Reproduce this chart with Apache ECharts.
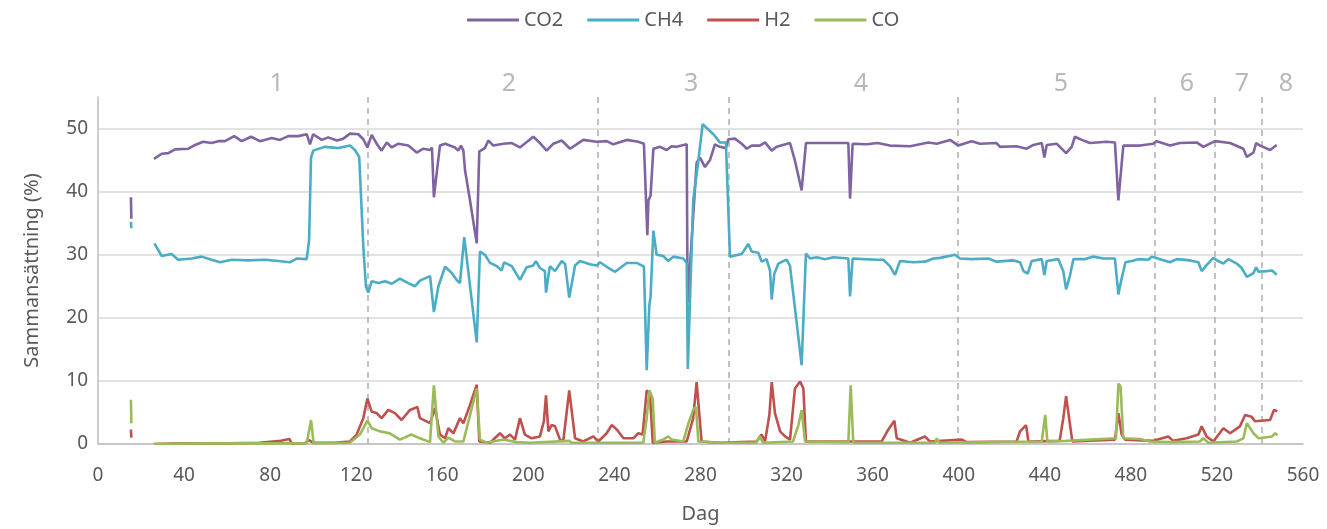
<!DOCTYPE html>
<html>
<head>
<meta charset="utf-8">
<script src="https://cdn.jsdelivr.net/npm/echarts@6/dist/echarts.min.js"></script>
<style>
  html, body { margin: 0; padding: 0; background: #fff; }
  #chart { width: 1327px; height: 529px; }
</style>
</head>
<body>
<div id="chart"></div>
<script>
// [dag, %] par
var co2 = [[15.3,39.1],[15.5,35.7],[20,null],
	[26,45.2],[29.6,46.0],[32.7,46.1],[35.8,46.7],[42,46.8],[45.1,47.4],[48.9,47.9],[52.8,47.7],[55.9,48.0],[59,48.0],[63.3,48.8],[66.8,48.0],[71.1,48.7],[75.3,48.0],[80.7,48.5],[84.6,48.2],[88.4,48.8],[93.1,48.8],[97,49.1],[98.5,47.5],[100,49.1],[104,48.2],[107,48.6],[111,48.1],[114,48.4],[117.1,49.2],[121,49.1],[123.3,48.3],[125.2,47.0],[127.2,49.0],[129.5,47.6],[131.8,46.5],[134.2,47.8],[136.5,47.0],[139.6,47.6],[144.2,47.3],[148.1,46.2],[151.2,46.8],[154.3,46.6],[155.2,47.0],[156.1,39.1],[158.9,47.3],[161.3,47.6],[165.9,47.0],[167.4,46.5],[168.7,47.3],[169.8,46.5],[170.6,43.3],[172.9,38.6],[176,31.8],[177.2,46.4],[179.8,46.9],[181.4,48.1],[183.7,47.3],[188.4,47.6],[192.3,47.7],[196.1,47.0],[202.3,48.7],[205.4,47.7],[208.5,46.5],[211.6,47.6],[215.5,48.1],[219.4,46.8],[225.5,48.2],[231.8,47.9],[236.4,48.0],[239.5,47.5],[245.7,48.2],[251.1,47.9],[253.7,47.6],[255.3,33.1],[255.8,38.6],[256.8,39.4],[258.1,46.8],[261.2,47.1],[264.3,46.6],[266.6,47.2],[268.9,47.1],[273.6,47.5],[274,22.4],[275.4,29.7],[278.2,44.6],[279.8,45.4],[282.1,43.9],[284.4,45.0],[286.7,47.5],[289,47.1],[291.8,46.9],[292.9,48.3],[296,48.4],[299.1,47.6],[301.5,46.8],[303.8,47.3],[307.6,47.3],[310,47.8],[313.1,46.5],[315.4,47.1],[321.6,47.7],[323.9,44.9],[327,40.2],[329,47.7],[334,47.7],[341.7,47.7],[348.7,47.7],[349.5,38.9],[350.7,47.6],[357.2,47.5],[362.4,47.7],[368,47.3],[377.4,47.2],[385.9,47.8],[389.8,47.6],[396,48.2],[399.8,47.3],[406,48.0],[409.9,47.6],[417.6,47.7],[419.2,47.1],[426.9,47.2],[431.6,46.8],[434.7,47.4],[438.6,47.7],[439.8,45.4],[440.9,47.4],[445.5,47.6],[449.9,46.1],[452.5,47.1],[454,48.7],[457.2,48.2],[461,47.7],[468.8,47.9],[472.6,47.8],[474.2,38.6],[476.5,47.3],[484.3,47.3],[490.4,47.6],[492,48.0],[498.2,47.3],[502.8,47.7],[510.6,47.8],[513.7,47.1],[519.1,48.0],[526.1,47.7],[532.3,46.8],[533.9,45.5],[537,46.2],[538.2,47.7],[540.1,47.3],[544.7,46.6],[547.8,47.4]];

var ch4 = [[15.3,35.2],[15.5,34.2],[20,null],
	[26.2,31.8],[29.6,29.8],[34.2,30.1],[37.3,29.2],[43.5,29.4],[48.2,29.7],[52.8,29.2],[56.7,28.8],[62.1,29.2],[69.9,29.1],[77.7,29.2],[83.8,29.0],[89.2,28.8],[92.3,29.4],[97,29.3],[98.1,32.3],[99,45.4],[100,46.5],[105.5,47.1],[111.7,46.9],[117.1,47.3],[119.4,46.6],[121.4,45.5],[123.3,31.3],[124.5,25.0],[125.6,24.0],[127.2,25.8],[130.3,25.5],[133.4,25.8],[136.5,25.4],[140.3,26.2],[144.2,25.5],[147.3,25.0],[149.6,25.9],[154.3,26.6],[156.1,20.9],[158.2,25.0],[161.3,28.1],[164.4,27.1],[166.7,26.0],[168.2,25.5],[170.2,32.8],[176,16.1],[177.5,30.5],[179.8,30.0],[182.2,28.7],[185.3,28.2],[187.6,27.5],[188.7,28.8],[192.3,28.2],[196.1,26.0],[199.2,28.0],[202.3,28.3],[203.5,29.0],[205.4,27.9],[207.7,27.4],[208.2,24.0],[210,28.2],[212.4,27.4],[215.5,29.0],[217.1,28.5],[219,23.2],[221.7,28.3],[224,29.0],[228.6,28.5],[231.8,28.3],[233.3,28.8],[237.2,27.9],[240.3,27.3],[245.7,28.7],[250.4,28.7],[253.7,28.1],[255,11.7],[256.2,21.9],[256.8,23.4],[258.1,33.8],[259.6,30.0],[262.7,29.8],[265,29.0],[267.4,29.7],[272,29.4],[273.6,28.7],[274.1,11.9],[276.6,38.6],[279,44.9],[281,50.7],[282.5,50.2],[286,49.1],[289,47.8],[291.8,47.8],[292.5,41.2],[293.7,29.7],[299.1,30.1],[302.2,31.7],[303.8,30.5],[306.9,30.3],[308.4,28.9],[310.7,29.3],[312.3,27.5],[313.1,22.9],[314.3,27.0],[316.2,28.6],[318.5,29.0],[320.1,29.2],[321.6,28.2],[327,12.5],[329,30.2],[330.9,29.4],[334,29.6],[337.9,29.3],[341.7,29.6],[348.7,29.4],[349.5,23.4],[350.7,29.4],[355.7,29.3],[361.9,29.2],[365,29.2],[368,28.2],[370.4,26.8],[372.7,29.0],[378.9,28.8],[384.3,28.9],[388.2,29.4],[391.3,29.5],[398.3,30.0],[400.6,29.4],[406,29.3],[413.7,29.4],[417.6,28.9],[425.4,29.1],[428.5,28.8],[430.1,27.4],[432.1,27.0],[433.9,29.0],[438.6,29.3],[439.8,26.8],[440.9,29.0],[446.3,29.3],[448.6,27.4],[449.9,24.5],[451.7,26.7],[453.3,29.3],[458.5,29.3],[462.6,29.7],[467.2,29.4],[472.6,29.4],[474.2,23.7],[475.5,25.9],[477.5,28.8],[480.4,29.0],[483.5,29.3],[488.2,29.2],[489.7,29.7],[493.6,29.3],[498.2,28.8],[501.3,29.3],[507.5,29.1],[511.4,28.8],[512.9,27.4],[515.3,28.4],[518.3,29.5],[520.6,29.0],[523,28.6],[525.3,29.3],[529.2,28.6],[531.5,27.9],[533.9,26.5],[537,27.1],[538.2,28.0],[539.4,27.3],[543.3,27.4],[545.6,27.5],[547.8,26.8]];

var h2 = [[15.3,2.3],[15.5,1.0],[20,null],
	[26,0.0],[40,0.1],[60,0.1],[75,0.2],[85,0.5],[89,0.8],[90,0.1],[96,0.1],[98,0.6],[100,0.2],[110,0.2],[117.1,0.4],[120.2,1.5],[123.3,4.1],[125.2,7.2],[127.2,5.1],[129.5,4.9],[131.8,4.1],[134.9,5.4],[138,4.9],[141.1,3.8],[145,5.4],[147.3,5.7],[148.4,5.9],[149.6,4.1],[154.3,3.3],[156.6,5.7],[158.9,1.5],[161.3,0.9],[162.8,2.5],[165.2,1.7],[168.2,4.1],[169.8,3.3],[172.9,6.2],[176,9.4],[177.2,0.4],[182.2,0.2],[186.8,1.7],[189.1,0.9],[191.5,1.5],[193.8,0.7],[196.1,4.1],[198.4,1.5],[201.5,0.9],[205.4,1.2],[207.2,3.6],[208.2,7.7],[209.3,2.0],[210.8,3.0],[212.4,2.8],[214.7,0.7],[216.2,0.4],[219,8.5],[221.7,0.9],[225.5,0.4],[230.2,1.2],[232.5,0.4],[236.4,1.7],[238.7,3.0],[241.1,2.3],[244.2,0.9],[248.8,0.9],[251.1,1.7],[253.1,1.5],[255,8.5],[256.5,8.0],[257.8,0.2],[264.3,0.4],[273.6,0.4],[276.6,4.1],[278.2,9.8],[280.5,0.4],[289,0.2],[306.1,0.4],[308.4,1.5],[310,0.4],[312,4.6],[313.1,9.8],[314.6,4.9],[317,2.0],[319.3,1.2],[321.6,0.7],[323.9,8.8],[326.3,9.9],[327.8,8.8],[329,0.4],[364.2,0.4],[367.3,2.3],[370.1,3.7],[371.2,0.9],[377.4,0.2],[384.3,1.2],[386.6,0.4],[401.4,0.7],[403.7,0.3],[426.9,0.4],[428.5,2.0],[431.3,3.0],[432.4,0.4],[446.9,0.5],[448.6,4.1],[449.9,7.6],[451.3,4.1],[452.8,0.4],[472.6,0.7],[474.2,4.9],[475.7,1.5],[477.3,0.7],[490.4,0.5],[497.4,1.2],[499.7,0.5],[505.9,0.9],[511.4,1.5],[512.9,2.8],[515.2,1.2],[518.3,0.4],[523,2.5],[526.1,1.7],[530.7,2.8],[533.1,4.6],[536.1,4.3],[537.7,3.6],[544.7,3.8],[546.5,5.4],[548.1,5.2]];

var co = [[15.3,7.0],[15.5,3.3],[20,null],
	[26,0.0],[50,0.1],[97,0.1],[99,3.8],[100.2,0.1],[117,0.2],[121.7,1.5],[125.2,3.7],[127.2,2.5],[131,2.0],[135.6,1.7],[140.3,0.7],[145.6,1.5],[149.6,0.9],[154.3,0.3],[156.1,9.3],[158.2,1.2],[160.5,0.2],[162.8,1.0],[165.9,0.4],[169.8,0.4],[176,8.8],[177.5,0.7],[180.6,0.2],[188.4,0.7],[194.6,0.3],[200.7,0.2],[219,0.5],[220,0.2],[253.4,0.2],[255,4.1],[256.2,8.5],[257.8,7.2],[258.8,0.2],[262.7,0.7],[265,1.2],[266.6,0.7],[272,0.4],[274.4,3.3],[276.6,5.4],[277.9,5.9],[279,0.4],[289,0.2],[306,0.2],[307.6,1.2],[309,0.2],[323,0.4],[325.5,3.0],[327,5.4],[328.6,0.4],[348.7,0.3],[349.8,9.3],[351,0.2],[389,0.2],[389.8,0.9],[391,0.2],[438.6,0.4],[440.2,4.6],[441.2,0.4],[449.9,0.5],[473.1,0.9],[474.2,9.6],[475.2,9.1],[476.5,0.9],[484.3,0.8],[488.9,0.4],[498.2,0.3],[512.1,0.4],[513.7,0.9],[516,0.2],[529.2,0.4],[532.3,0.9],[533.9,3.3],[537,1.7],[539.4,0.9],[545.6,1.2],[547.1,1.7],[548.1,1.4]];

// periodgränser (dag) och periodetiketter
var periodBounds = [125.3, 232.1, 292.9, 399.6, 490.9, 519.1, 540.7];
var periodNames = ['1', '2', '3', '4', '5', '6', '7', '8'];
var periodLabelDay = [83, 191, 275.6, 354.6, 447.5, 506, 531.6, 552];
var periodLabelY = 57.1;

var seriesNames = ['CO2', 'CH4', 'H2', 'CO'];
var seriesColors = ['#8064a2', '#4bacc6', '#c0504d', '#9bbb59'];
var seriesData = [co2, ch4, h2, co];

var FONT = 'Noto Sans';
var chart = echarts.init(document.getElementById('chart'));

var series = seriesData.map(function (d, i) {
	var s = {
		name : seriesNames[i],
		type : 'line',
		data : d,
		showSymbol : false,
		symbol : 'none',
		connectNulls : false,
		lineStyle : { width : 2.6, color : seriesColors[i] },
		itemStyle : { color : seriesColors[i] },
		z : 3 + i
	};
	if (i === 0) {
		s.markLine = {
			silent : true,
			symbol : 'none',
			label : { show : false },
			lineStyle : { type : [6, 5], color : '#b3b3b3', width : 1.6 },
			data : periodBounds.map(function (x) { return { xAxis : x }; }),
			z : 2
		};
	}
	return s;
});

series.push({
	name : 'perioder',
	type : 'scatter',
	clip : false,
	silent : true,
	symbolSize : 1,
	itemStyle : { color : 'rgba(0,0,0,0)' },
	label : {
		show : true,
		position : 'inside',
		color : '#a6a6a6',
		fontSize : 25,
		fontFamily : FONT,
		formatter : function (p) { return periodNames[p.dataIndex]; }
	},
	data : periodLabelDay.map(function (x) { return [x, periodLabelY]; })
});

option = {
	animation : false,
	textStyle : { fontFamily : FONT },
	legend : {
		data : seriesNames,
		top : 5,
		left : 462,
		icon : 'rect',
		itemWidth : 52,
		itemHeight : 3,
		itemGap : 24,
		textStyle : { fontSize : 20, color : '#595959', fontFamily : FONT }
	},
	grid : { left : 98, right : 24, top : 97, bottom : 83, containLabel : false },
	xAxis : {
		type : 'value',
		min : 0,
		max : 560,
		interval : 40,
		name : 'Dag',
		nameLocation : 'middle',
		nameGap : 60,
		nameTextStyle : { fontSize : 20, color : '#595959' },
		axisLine : { show : true, lineStyle : { color : '#bfbfbf', width : 1.5 } },
		axisTick : { show : false },
		axisLabel : { fontSize : 19, color : '#595959', margin : 22 },
		splitLine : { show : false }
	},
	yAxis : {
		type : 'value',
		min : 0,
		max : 55,
		interval : 10,
		name : 'Sammansättning (%)',
		nameLocation : 'middle',
		nameGap : 56,
		nameTextStyle : { fontSize : 20, color : '#595959' },
		axisLine : { show : true, lineStyle : { color : '#bfbfbf', width : 1.5 } },
		axisTick : { show : false },
		axisLabel : { fontSize : 19, color : '#595959', margin : 10, showMaxLabel : false },
		splitLine : { show : true, showMaxLine : false, lineStyle : { color : '#d9d9d9', width : 1.5 } }
	},
	series : series
};

chart.setOption(option);
</script>
</body>
</html>
